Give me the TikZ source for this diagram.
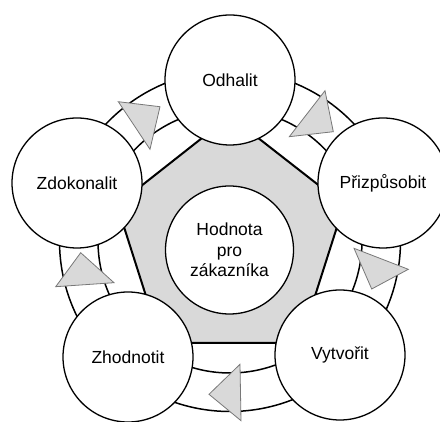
\documentclass[tikz,border=0pt]{standalone}
\usepackage{fontspec}
\setmainfont{Liberation Sans}
\definecolor{coregray}{RGB}{217,217,217}
\definecolor{arrowgray}{RGB}{120,120,120}
\begin{document}
\begin{tikzpicture}[x=1pt,y=-1pt,
  stage/.style={circle,draw=black,line width=1.3pt,fill=white,minimum size=130pt,
    inner sep=0pt,align=center,font=\fontsize{17.5}{20.5}\selectfont},
  ring/.style={draw=black,line width=1.5pt},
  core/.style={fill=coregray,draw=black,line width=2pt,line join=miter},
  flow/.style={fill=coregray,draw=arrowgray,line width=0.8pt,line join=miter}]
\useasboundingbox (0,0) rectangle (440,422);

% the cycle track: two concentric rings
\coordinate (hub) at (230,241);
\draw[ring] (hub) circle[radius=132pt];
\draw[ring] (hub) circle[radius=170.5pt];

% central pentagon
\draw[core] (230,116) -- (344,205) -- (300,343) -- (161,343) -- (117,205) -- cycle;

% centre value and the five stages
\node[stage,minimum size=128pt] (value) at (229.5,250) {Hodnota\\pro\\zákazníka};
\node[stage] (odhalit)  at (230,80)  {Odhalit};
\node[stage] (prizp)    at (383,183) {Přizpůsobit};
\node[stage] (vytvorit) at (340,355) {Vytvořit};
\node[stage] (zhodn)    at (128,357) {Zhodnotit};
\node[stage] (zdokon)   at (77,183)  {Zdokonalit};

% clockwise direction markers on the track
\draw[flow] (118.3,101.7) -- (160,106.7) -- (150,149.3) -- cycle;
\draw[flow] (325,90.7) -- (333.3,131.7) -- (289.3,136.7) -- cycle;
\draw[flow] (354,248.3) -- (408.3,269.3) -- (371.7,289) -- cycle;
\draw[flow] (240,364.3) -- (209,394.3) -- (241,420.7) -- cycle;
\draw[flow] (80.7,252.7) -- (114,282.7) -- (55.7,286.7) -- cycle;
\end{tikzpicture}
\end{document}
